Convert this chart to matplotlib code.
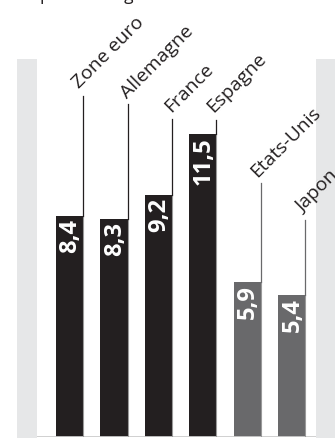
import matplotlib
matplotlib.use("Agg")
import matplotlib.pyplot as plt
from matplotlib.patches import Rectangle

pays = ["Zone euro", "Allemagne", "France", "Espagne", "Etats-Unis", "Japon"]
valeurs = [8.4, 8.3, 9.2, 11.5, 5.9, 5.4]
etiquettes = ["8,4", "8,3", "9,2", "11,5", "5,9", "5,4"]
couleurs = ["#231f20"] * 4 + ["#69696b"] * 2
# hauteur du haut des traits de rappel (en unités de l'axe)
haut_trait = [12.97, 12.66, 12.09, 12.05, 9.66, 8.25]
# décalage des noms par rapport au haut du trait (pixels)
decal = [(-14, 4), (-10, 2), (-11, 3), (-13, 4), (-13, 2), (-12, 4)]

plt.rcParams["font.family"] = ["Open Sans", "DejaVu Sans"]

W, H = 335, 441
fig = plt.figure(figsize=(W / 100, H / 100), dpi=100)

# bandes grises sur les côtés
for x0, x1 in [(17, 37), (316, 335)]:
    fig.add_artist(Rectangle((x0 / W, 3 / H), (x1 - x0) / W, 379 / H,
                             transform=fig.transFigure, color="#e6e7e8",
                             lw=0, zorder=0))

titre = fig.text(15 / W, 1.0, "En pourcentage", fontsize=13, color="#231f20",
                 ha="left", va="baseline")

ax = fig.add_axes([37 / W, 4 / H, 279 / W, 378 / H])
ax.set_xlim(-0.734, 5.55)
ax.set_ylim(0, 14.37)
ax.axis("off")

x = list(range(len(pays)))
larg = 0.61
ax.bar(x, valeurs, width=larg, color=couleurs, zorder=2)
ax.axhline(0, color="#cccccc", lw=2, zorder=3)

noms = []
chiffres = []
for i in x:
    xr = i + larg / 2
    ax.plot([xr, xr], [0, valeurs[i]], color="#9a9a9a", lw=0.8, zorder=3)
    ax.plot([xr, xr], [valeurs[i], haut_trait[i]], color=couleurs[i], lw=0.9, zorder=3)
    noms.append(ax.annotate(pays[i], xy=(xr, haut_trait[i]), xytext=decal[i],
                            textcoords="offset pixels", rotation=45,
                            ha="left", va="bottom", fontsize=14, color="#231f20"))
    chiffres.append(ax.annotate(etiquettes[i], xy=(i, valeurs[i]), xytext=(1, -3),
                                textcoords="offset pixels", rotation=90,
                                ha="center", va="top", fontsize=14,
                                fontweight="bold", color="white", zorder=4))

# ajuster les tailles de police sur les largeurs mesurées dans le modèle
fig.canvas.draw()
r = fig.canvas.get_renderer()
t_nom = 14 * 79 / noms[0].get_window_extent(r).width
t_chiffre = 14 * 34 / chiffres[0].get_window_extent(r).height
t_titre = 13 * 128 / titre.get_window_extent(r).width
for t in noms:
    t.set_fontsize(t_nom)
for t in chiffres:
    t.set_fontsize(t_chiffre)
titre.set_fontsize(t_titre)

fig.savefig("out.png", dpi=100)
